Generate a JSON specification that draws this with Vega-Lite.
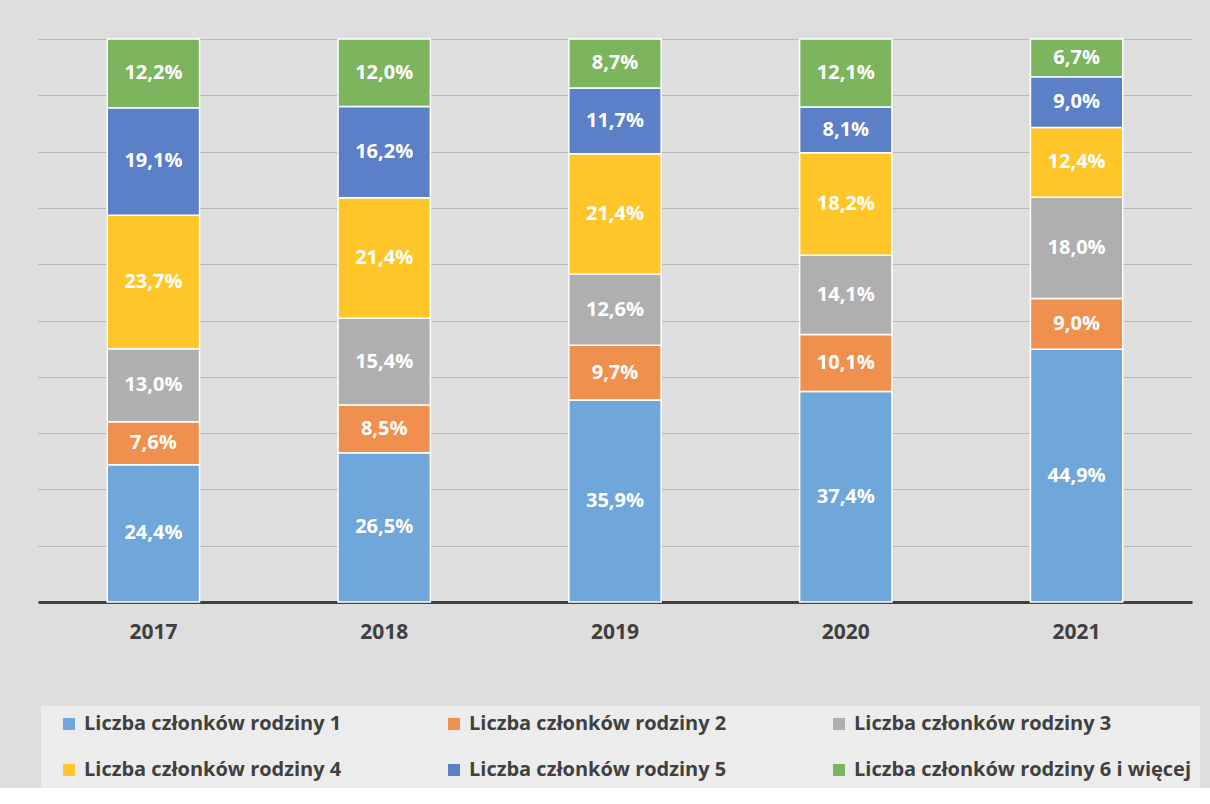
{
  "$schema": "https://vega.github.io/schema/vega-lite/v6.json",
  "width": 1154,
  "height": 563,
  "padding": {"left": 38, "top": 38, "right": 18, "bottom": 0},
  "background": "#dedede",
  "data": {
    "values": [
      {"year": "2017", "cat": "Liczba członków rodziny 1", "ord": 1, "value": 0.244},
      {"year": "2017", "cat": "Liczba członków rodziny 2", "ord": 2, "value": 0.076},
      {"year": "2017", "cat": "Liczba członków rodziny 3", "ord": 3, "value": 0.130},
      {"year": "2017", "cat": "Liczba członków rodziny 4", "ord": 4, "value": 0.237},
      {"year": "2017", "cat": "Liczba członków rodziny 5", "ord": 5, "value": 0.191},
      {"year": "2017", "cat": "Liczba członków rodziny 6 i więcej", "ord": 6, "value": 0.122},
      {"year": "2018", "cat": "Liczba członków rodziny 1", "ord": 1, "value": 0.265},
      {"year": "2018", "cat": "Liczba członków rodziny 2", "ord": 2, "value": 0.085},
      {"year": "2018", "cat": "Liczba członków rodziny 3", "ord": 3, "value": 0.154},
      {"year": "2018", "cat": "Liczba członków rodziny 4", "ord": 4, "value": 0.214},
      {"year": "2018", "cat": "Liczba członków rodziny 5", "ord": 5, "value": 0.162},
      {"year": "2018", "cat": "Liczba członków rodziny 6 i więcej", "ord": 6, "value": 0.120},
      {"year": "2019", "cat": "Liczba członków rodziny 1", "ord": 1, "value": 0.359},
      {"year": "2019", "cat": "Liczba członków rodziny 2", "ord": 2, "value": 0.097},
      {"year": "2019", "cat": "Liczba członków rodziny 3", "ord": 3, "value": 0.126},
      {"year": "2019", "cat": "Liczba członków rodziny 4", "ord": 4, "value": 0.214},
      {"year": "2019", "cat": "Liczba członków rodziny 5", "ord": 5, "value": 0.117},
      {"year": "2019", "cat": "Liczba członków rodziny 6 i więcej", "ord": 6, "value": 0.087},
      {"year": "2020", "cat": "Liczba członków rodziny 1", "ord": 1, "value": 0.374},
      {"year": "2020", "cat": "Liczba członków rodziny 2", "ord": 2, "value": 0.101},
      {"year": "2020", "cat": "Liczba członków rodziny 3", "ord": 3, "value": 0.141},
      {"year": "2020", "cat": "Liczba członków rodziny 4", "ord": 4, "value": 0.182},
      {"year": "2020", "cat": "Liczba członków rodziny 5", "ord": 5, "value": 0.081},
      {"year": "2020", "cat": "Liczba członków rodziny 6 i więcej", "ord": 6, "value": 0.121},
      {"year": "2021", "cat": "Liczba członków rodziny 1", "ord": 1, "value": 0.449},
      {"year": "2021", "cat": "Liczba członków rodziny 2", "ord": 2, "value": 0.090},
      {"year": "2021", "cat": "Liczba członków rodziny 3", "ord": 3, "value": 0.180},
      {"year": "2021", "cat": "Liczba członków rodziny 4", "ord": 4, "value": 0.124},
      {"year": "2021", "cat": "Liczba członków rodziny 5", "ord": 5, "value": 0.090},
      {"year": "2021", "cat": "Liczba członków rodziny 6 i więcej", "ord": 6, "value": 0.067}
    ]
  },
  "encoding": {
    "x": {
      "field": "year", "type": "nominal",
      "scale": {"paddingInner": 0.6, "paddingOuter": 0.3},
      "axis": {
        "title": null, "labelAngle": 0, "ticks": false,
        "domainColor": "#404040", "domainWidth": 3,
        "labelFont": "Open Sans", "labelFontWeight": "bold", "labelFontSize": 21,
        "labelColor": "#404040", "labelPadding": 19
      }
    },
    "y": {
      "field": "value", "type": "quantitative", "stack": "zero",
      "scale": {"domain": [0, 1], "nice": false},
      "axis": {
        "title": null, "labels": false, "ticks": false, "domain": false,
        "values": [0, 0.1, 0.2, 0.3, 0.4, 0.5, 0.6, 0.7, 0.8, 0.9, 1],
        "gridColor": "#b9b9b9", "gridWidth": 1
      }
    },
    "order": {"field": "ord", "type": "quantitative"}
  },
  "layer": [
    {
      "mark": {"type": "bar", "stroke": "white", "strokeWidth": 1.5},
      "encoding": {
        "color": {
          "field": "cat", "type": "nominal",
          "scale": {
            "domain": ["Liczba członków rodziny 1", "Liczba członków rodziny 2", "Liczba członków rodziny 3", "Liczba członków rodziny 4", "Liczba członków rodziny 5", "Liczba członków rodziny 6 i więcej"],
            "range": ["#70a7da", "#f0904f", "#afafaf", "#ffc629", "#5b80c8", "#7db45e"]
          },
          "legend": {
            "title": null, "orient": "none", "legendX": 3, "legendY": 667,
            "direction": "horizontal", "columns": 3, "gridAlign": "all",
            "symbolType": "square", "symbolSize": 144, "symbolStrokeWidth": 0,
            "symbolOffset": 10,
            "labelFont": "Open Sans", "labelFontWeight": "bold", "labelFontSize": 20,
            "labelColor": "#404040", "labelLimit": 400, "labelOffset": 5,
            "columnPadding": 12, "rowPadding": 26, "padding": 8,
            "fillColor": "#ececec"
          }
        }
      }
    },
    {
      "mark": {"type": "text", "color": "white", "font": "Open Sans", "fontWeight": "bold", "fontSize": 20, "baseline": "middle"},
      "encoding": {
        "y": {"field": "value", "type": "quantitative", "stack": "zero", "bandPosition": 0.5},
        "text": {"field": "value", "type": "quantitative", "format": ".1%"}
      }
    }
  ],
  "config": {
    "view": {"stroke": null},
    "locale": {"number": {"decimal": ",", "thousands": " ", "grouping": [3], "currency": ["", " zł"]}}
  }
}
